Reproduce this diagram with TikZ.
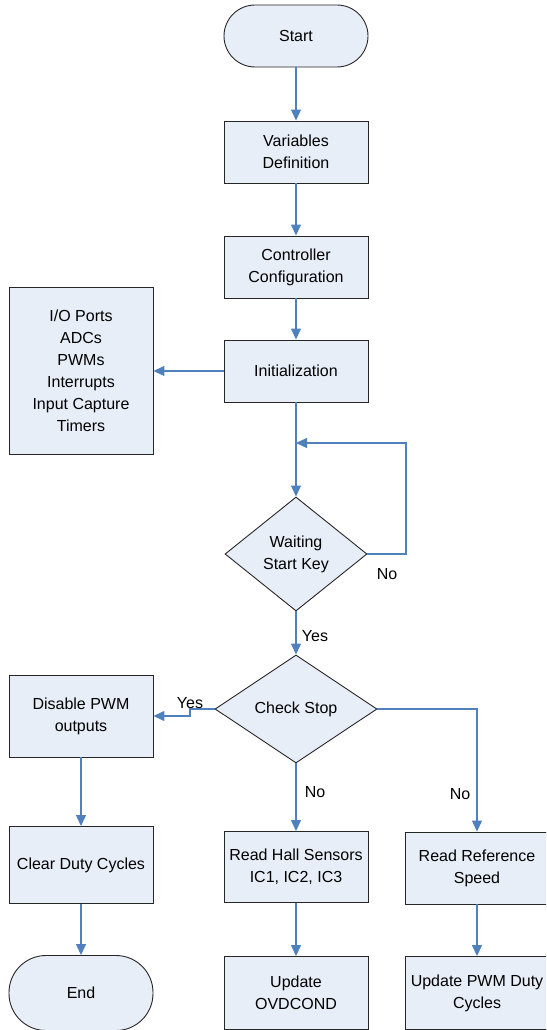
\documentclass[tikz,border=0pt]{standalone}
\usepackage{fontspec}
\setmainfont{Liberation Sans}
\usetikzlibrary{arrows.meta,shapes.geometric}
\definecolor{boxfill}{RGB}{232,238,247}
\definecolor{flowblue}{RGB}{79,129,189}

\begin{document}
\begin{tikzpicture}[
  x=1pt,y=-1pt,
  font=\fontsize{16}{22}\selectfont,
  n/.style={draw=black!85,line width=0.9pt,fill=boxfill,minimum width=144pt,minimum height=62pt,align=center,inner sep=2pt},
  term/.style={n,rounded corners=31pt},
  dec/.style={diamond,draw=black!85,line width=0.9pt,fill=boxfill,aspect=1.3,inner sep=0pt,align=center},
  lab/.style={inner sep=0pt},
  flow/.style={->,flowblue,line width=1.2pt},
  >={Triangle[length=11pt,width=10pt]}
]
\clip (0,0) rectangle (546,1030);
\node[term] (start) at (296,36) {Start};
\node[n] (vars) at (296,152) {Variables\\Definition};
\node[n] (conf) at (296,267) {Controller\\Configuration};
\node[n] (init) at (296,371) {Initialization};
\node[n,minimum height=167pt] (periph) at (81,371) {I/O Ports\\ADCs\\PWMs\\Interrupts\\Input Capture\\Timers};
\node[dec,minimum width=142pt,minimum height=114pt] (wait) at (296,554) {Waiting\\Start Key};
\node[dec,minimum width=162pt,minimum height=108pt] (stop) at (296,709) {Check Stop};
\node[n,minimum height=82pt] (dis) at (81,716) {Disable PWM\\outputs};
\node[n,minimum height=77pt] (clr) at (81,865) {Clear Duty Cycles};
\node[term,minimum height=75pt,rounded corners=37pt] (end) at (81,993) {End};
\node[n,minimum height=71pt] (hall) at (296,867) {Read Hall Sensors\\IC1, IC2, IC3};
\node[n,minimum height=73pt] (ovd) at (296,993) {Update\\OVDCOND};
\node[n,minimum height=72pt] (ref) at (477,868) {Read Reference\\Speed};
\node[n,minimum height=73pt] (upd) at (477,993) {Update PWM Duty\\Cycles};

% branch labels
\node[lab] (lno1) at (387,574) {No};
\node[lab] (lyes1) at (315,636) {Yes};
\node[lab] (lyes2) at (190,703) {Yes};
\node[lab] (lno2) at (315,792) {No};
\node[lab] (lno3) at (460,794) {No};

\coordinate (back) at (406,443);
\coordinate (join) at (296,443);
\coordinate (ybend) at (190,716);

\draw[flow] (start) -- (vars);
\draw[flow] (vars) -- (conf);
\draw[flow] (conf) -- (init);
\draw[flow] (init) -- (periph);
\draw[flow] (init) -- (wait);
\draw[flow] (wait.east) -| (back) -- (join);
\draw[flow] (wait) -- (stop);
\draw[flow] (stop.west) -| (ybend) -- (dis.east);
\draw[flow] (stop) -- (hall);
\draw[flow] (stop.east) -| (ref.north);
\draw[flow] (dis) -- (clr);
\draw[flow] (clr) -- (end);
\draw[flow] (hall) -- (ovd);
\draw[flow] (ref) -- (upd);
\end{tikzpicture}
\end{document}
